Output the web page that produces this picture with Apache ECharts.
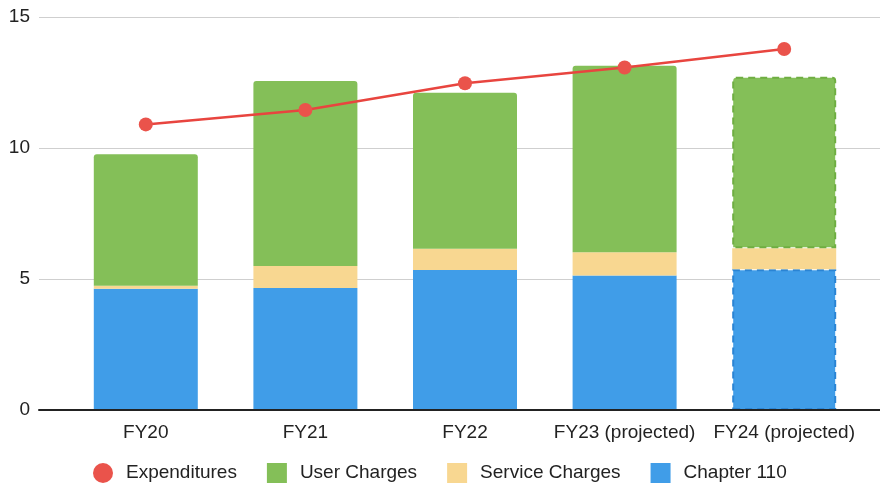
<!DOCTYPE html>
<html>
<head>
<meta charset="utf-8">
<script src="https://cdn.jsdelivr.net/npm/echarts@6/dist/echarts.min.js"></script>
<style>html,body{margin:0;padding:0;background:#fff;}#c{width:880px;height:484px;}</style>
</head>
<body>
<div id="c"></div>
<script>
var categories = ['FY20', 'FY21', 'FY22', 'FY23 (projected)', 'FY24 (projected)'];
var chapter110 = [4.63, 4.66, 5.34, 5.13, 5.37];
var serviceCharges = [0.11, 0.84, 0.81, 0.89, 0.80];
var userCharges = [5.02, 7.06, 5.96, 7.12, 6.55];
var expenditures = [10.9, 11.45, 12.47, 13.07, 13.78];
var yTicks = [0, 5, 10, 15];
var projectedIndex = 4;

var FONT = '"Liberation Sans", Arial, sans-serif';
var cBlue = '#409de8', cGreen = '#84bf58', cYellow = '#f8d791', cRed = '#ea534b';

function withDashed(vals, color, border, radius) {
  return vals.map(function (v, i) {
    if (i === projectedIndex && border) {
      return { value: v, itemStyle: { color: color, borderColor: border, borderWidth: 2, borderType: [7, 5], borderRadius: radius } };
    }
    return v;
  });
}

var chart = echarts.init(document.getElementById('c'), null, { renderer: 'canvas' });
chart.setOption({
  animation: false,
  backgroundColor: '#fff',
  textStyle: { fontFamily: FONT },
  grid: [
    { left: 39, right: 0, top: 17, bottom: 74 },
    { left: 66, right: 16, top: 17, bottom: 74 }
  ],
  xAxis: [
    { gridIndex: 0, type: 'value', min: 0, max: 1, z: 10,
      axisLine: { show: true, onZero: false, lineStyle: { color: '#222', width: 2 } },
      axisTick: { show: false }, axisLabel: { show: false }, splitLine: { show: false } },
    { gridIndex: 1, type: 'category', data: categories,
      axisLine: { show: false }, axisTick: { show: false },
      axisLabel: { interval: 0, margin: 13, fontSize: 19, color: '#222', fontFamily: FONT } }
  ],
  yAxis: [
    { gridIndex: 0, type: 'value', min: yTicks[0], max: yTicks[yTicks.length - 1], interval: 5,
      axisLine: { show: false }, axisTick: { show: false },
      axisLabel: { margin: 9, fontSize: 19, color: '#222', fontFamily: FONT },
      splitLine: { lineStyle: { color: '#cfcfcf', width: 1 } } },
    { gridIndex: 1, type: 'value', min: yTicks[0], max: yTicks[yTicks.length - 1], show: false }
  ],
  legend: {
    top: 458, left: 88, itemWidth: 20, itemHeight: 20, itemGap: 30,
    textStyle: { fontSize: 19, color: '#222', fontFamily: FONT, padding: [0, 0, 0, 8] },
    data: [
      { name: 'Expenditures', icon: 'circle' },
      { name: 'User Charges', icon: 'rect' },
      { name: 'Service Charges', icon: 'rect' },
      { name: 'Chapter 110', icon: 'rect' }
    ]
  },
  series: [
    { name: 'Chapter 110', type: 'bar', stack: 's', xAxisIndex: 1, yAxisIndex: 1, barWidth: 104,
      itemStyle: { color: cBlue },
      data: withDashed(chapter110, cBlue, '#2a84d4', 0) },
    { name: 'Service Charges', type: 'bar', stack: 's', xAxisIndex: 1, yAxisIndex: 1, barWidth: 104,
      itemStyle: { color: cYellow },
      data: serviceCharges.slice() },
    { name: 'User Charges', type: 'bar', stack: 's', xAxisIndex: 1, yAxisIndex: 1, barWidth: 104,
      itemStyle: { color: cGreen, borderRadius: [3, 3, 0, 0] },
      data: withDashed(userCharges, cGreen, '#6fae42', [3, 3, 0, 0]) },
    { name: 'Expenditures', type: 'line', xAxisIndex: 1, yAxisIndex: 1, z: 5,
      symbol: 'circle', symbolSize: 14,
      lineStyle: { color: '#e8453f', width: 2.5 },
      itemStyle: { color: cRed },
      data: expenditures.slice() }
  ]
});
</script>
</body>
</html>
